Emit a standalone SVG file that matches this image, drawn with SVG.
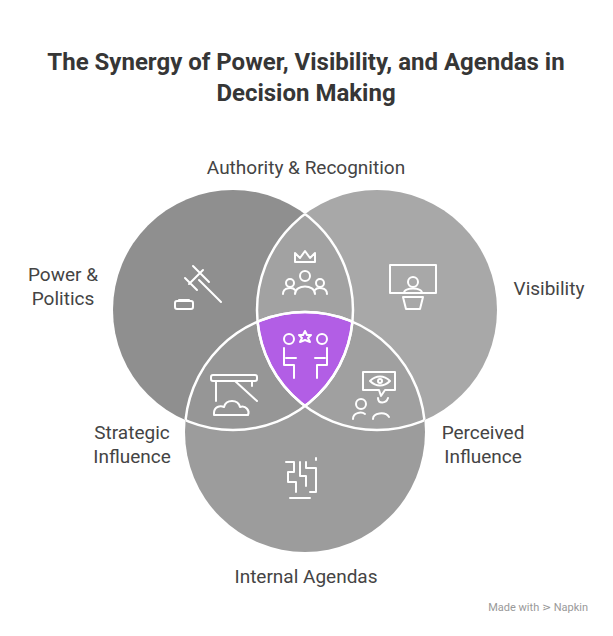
<svg xmlns="http://www.w3.org/2000/svg" width="613" height="636" viewBox="0 0 613 636">
<style>
.t{font-family:"Roboto","Liberation Sans",sans-serif;font-weight:bold;font-size:24px;fill:#363636;text-anchor:middle}
.l{font-family:"Roboto","Liberation Sans",sans-serif;font-size:19px;fill:#444;}
.arc{fill:none;stroke:#fff;stroke-width:2.5}
.ic{fill:none;stroke:#fff;stroke-width:2;stroke-linecap:round;stroke-linejoin:round}
</style>
<defs>
<clipPath id="cL"><circle cx="233" cy="310" r="120"/></clipPath>
<clipPath id="cR"><circle cx="377" cy="310" r="120"/></clipPath>
<clipPath id="cB"><circle cx="305" cy="432" r="120"/></clipPath>
</defs>
<rect width="613" height="636" fill="#fff"/>
<text class="t" x="306" y="70">The Synergy of Power, Visibility, and Agendas in</text>
<text class="t" x="306" y="101">Decision Making</text>
<g id="left"><circle cx="233" cy="310" r="120" fill="#8f8f8f"/></g>
<g id="right"><circle cx="377" cy="310" r="120" fill="#a8a8a8"/>
<circle cx="377" cy="310" r="120" fill="#a2a2a2" clip-path="url(#cL)"/></g>
<g id="bottom"><circle cx="305" cy="432" r="120" fill="#9c9c9c"/>
<circle cx="305" cy="432" r="120" fill="#969696" clip-path="url(#cL)"/>
<circle cx="305" cy="432" r="120" fill="#a0a0a0" clip-path="url(#cR)"/></g>
<g id="center"><g clip-path="url(#cL)"><circle cx="305" cy="432" r="120" fill="#b25ee5" clip-path="url(#cR)"/></g></g>
<g id="connectors">
<circle class="arc" cx="233" cy="310" r="120" clip-path="url(#cR)"/>
<circle class="arc" cx="233" cy="310" r="120" clip-path="url(#cB)"/>
<circle class="arc" cx="377" cy="310" r="120" clip-path="url(#cL)"/>
<circle class="arc" cx="377" cy="310" r="120" clip-path="url(#cB)"/>
<circle class="arc" cx="305" cy="432" r="120" clip-path="url(#cL)"/>
<circle class="arc" cx="305" cy="432" r="120" clip-path="url(#cR)"/>
</g>
<g id="icons" class="ic">
<path d="M185 278l12 12M193 266l16 16M189 284l14-14M199 280l22 22"/>
<rect x="175" y="301" width="18" height="8" rx="2"/><line x1="179" y1="300" x2="189" y2="300"/>
<path d="M295 262l0-9 5 5 5-7 5 7 5-5 0 9z"/>
<circle cx="305" cy="276" r="5"/><path d="M295 294c0-10 20-10 20 0"/>
<circle cx="290" cy="283" r="4"/><path d="M283 294c0-7 10-7 12-4"/>
<circle cx="320" cy="283" r="4"/><path d="M327 294c0-7-10-7-12-4"/>
<rect x="390" y="265" width="46" height="28"/><circle cx="413" cy="282" r="5"/><path d="M404 293c0-6 18-6 18 0"/>
<path d="M403 297h20l-3 12h-14z"/>
<circle cx="289" cy="339" r="5"/><circle cx="322" cy="339" r="5"/><path d="M305 331l2 4 4 0-3 3 2 4-5-2-5 2 2-4-3-3 4 0z"/>
<path d="M284 348v17h10v13M296 358h-10M327 348v17h-10v13M315 358h10"/>
<rect x="211" y="375" width="46" height="6" rx="2"/><path d="M216 381v20M252 381v5M235 381l22 20"/>
<path d="M214 413c0-6 6-8 10-6 2-8 14-8 16 0 6-2 10 4 8 8h-34z"/>
<path d="M363 372h32v18h-10l-4 6-2-6h-16z"/><path d="M370 381c6-6 14-6 20 0c-6 6-14 6-20 0z"/><circle cx="380" cy="381" r="2"/>
<circle cx="361" cy="404" r="5"/><path d="M353 419c0-6 8-8 12-5"/><path d="M378 398c0 6 8 6 10 0M373 419c0-6 12-8 16-2"/>
<path d="M286 462h8v10h-6v10h8v10M300 462v14h6v10M306 462v6h10v24h-6M290 498h20M316 460v-2M300 466v0"/>
</g>
<g id="labels" text-anchor="middle">
<text class="l" x="306" y="174">Authority &amp; Recognition</text>
<text class="l" x="63" y="281">Power &amp;</text>
<text class="l" x="63" y="305">Politics</text>
<text class="l" x="549" y="295">Visibility</text>
<text class="l" x="132" y="439">Strategic</text>
<text class="l" x="132" y="463">Influence</text>
<text class="l" x="483" y="439">Perceived</text>
<text class="l" x="483" y="463">Influence</text>
<text class="l" x="306" y="583">Internal Agendas</text>
</g>
<text x="588" y="611" font-family="Roboto,'Liberation Sans',sans-serif" font-size="11" fill="#999" text-anchor="end">Made with ⋗ Napkin</text>
</svg>
